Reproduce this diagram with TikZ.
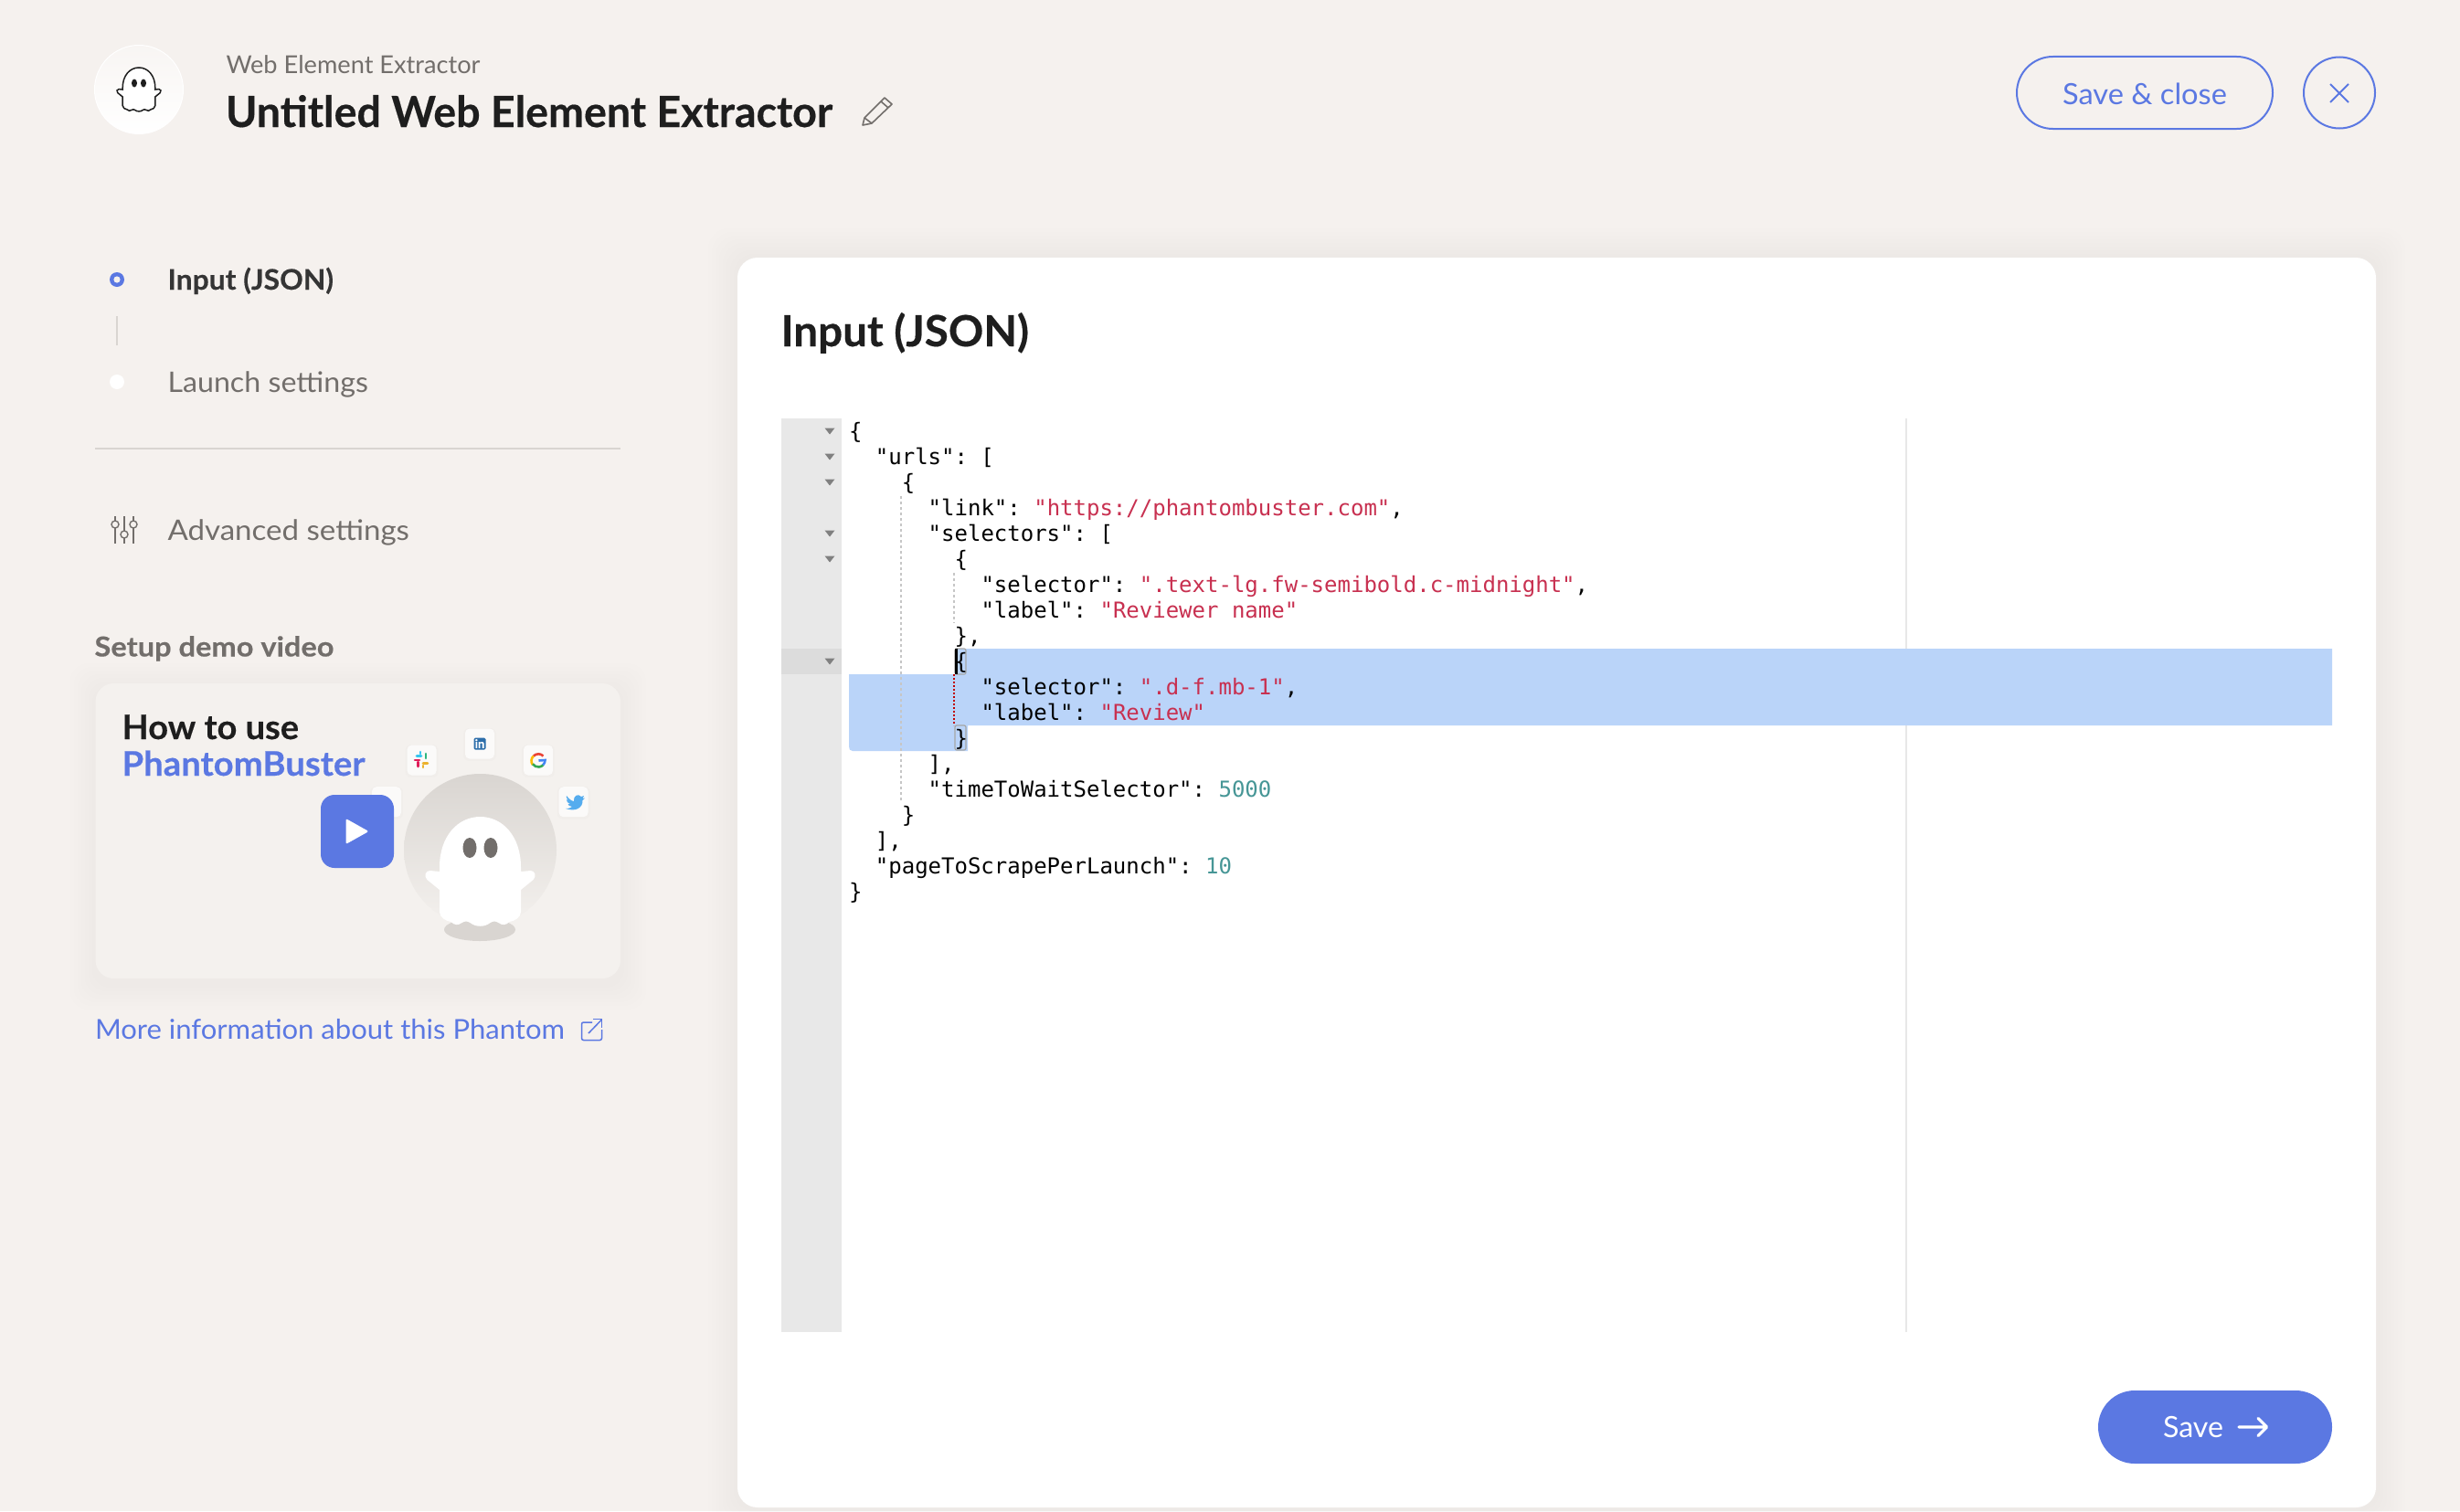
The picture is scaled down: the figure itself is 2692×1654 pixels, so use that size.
\documentclass[tikz,border=0pt]{standalone}
\usepackage{fontspec}
\usepackage{graphicx}
\setmainfont{Lato}[BoldFeatures={FakeBold=0.35}]
\newfontfamily\codefont{DejaVu Sans Mono}
\definecolor{pagebg}{RGB}{245,241,238}
\definecolor{brand}{RGB}{91,120,226}
\definecolor{ink}{RGB}{30,30,30}
\definecolor{mute}{RGB}{114,110,107}
\definecolor{rule}{RGB}{217,213,209}
\definecolor{gut}{RGB}{232,232,232}
\definecolor{gutact}{RGB}{220,220,220}
\definecolor{sel}{RGB}{186,212,249}
\definecolor{strc}{RGB}{200,48,80}
\definecolor{numc}{RGB}{70,150,150}
\definecolor{carda}{RGB}{244,241,238}
\newcommand\wt[2]{\resizebox{#1pt}{\height}{#2}}
\newcommand\fs[1]{\fontsize{#1pt}{#1pt}\selectfont}
\newcommand\ghostpath{(-44.5,55) .. controls (-44.5,22) and (-25,0) .. (0,0) .. controls (25,0) and (44.5,22) .. (44.5,55) -- (44.5,60) -- (55,59) .. controls (60,59) and (62,65) .. (58,69) -- (44.5,80) -- (44.5,104) .. controls (44.5,110) and (38,114) .. (32,115) .. controls (28,119) and (24,119) .. (20,116) .. controls (17,114) and (14,114) .. (11,116) .. controls (5,121) and (-5,121) .. (-11,116) .. controls (-14,114) and (-17,114) .. (-20,116) .. controls (-24,119) and (-28,119) .. (-32,115) .. controls (-38,114) and (-44.5,110) .. (-44.5,104) -- (-44.5,80) -- (-58,69) .. controls (-62,65) and (-60,59) .. (-55,59) -- (-44.5,60) -- cycle}
\tikzset{
  tx/.style={anchor=base west,inner sep=0pt,outer sep=0pt},
  code/.style={tx,font=\codefont\fs{24}\frenchspacing,text=black},
  tile/.style={fill=white,fill opacity=.75,rounded corners=5pt},
  fold/.style={fill=gray},
}
\begin{document}
\begin{tikzpicture}[x=1pt,y=-1pt]
\useasboundingbox (0,0) rectangle (2692,1654);
\fill[pagebg] (0,0) rectangle (2692,1654);

% header
\shade[top color=pagebg!70!white,bottom color=white,draw=white,line width=1pt] (152,98) circle (48.5pt);
\begin{scope}[shift={(152,74)},scale=.4]
  \fill[white,draw=ink,line width=1.5pt] \ghostpath;
\end{scope}
\fill[ink] (147,91) ellipse [x radius=3,y radius=4.5];
\fill[ink] (157,91) ellipse [x radius=3,y radius=4.5];
\node[tx,text=mute,font=\fs{27}] (subtitle) at (247.5,81) {\wt{278}{Web Element Extractor}};
\node[tx,text=ink,font=\bfseries\fs{47}] (title) at (247,139) {\wt{664}{Untitled Web Element Extractor}};
\begin{scope}[draw=mute,line width=1.6pt,line join=round]
  \draw (946,129) -- (968,107) -- (976,114) -- (954,135) -- (944,137) -- cycle;
  \draw (964,111) -- (972,118);
  \draw (946,129) -- (954,135);
\end{scope}
\draw[brand,line width=2pt,rounded corners=39.5pt] (2207,62) rectangle (2487,141);
\node[tx,text=brand,font=\fs{32}] (saveclose) at (2257,114) {\wt{180}{Save \& close}};
\draw[brand,line width=2pt] (2560,101.5) circle (39pt);
\draw[brand,line width=2pt] (2550,92) -- (2570,112) (2570,92) -- (2550,112);

% steps
\fill[brand] (128,306) circle (8pt);
\fill[pagebg] (128,306) circle (3.6pt);
\draw[rule,line width=1.6pt] (128,346) -- (128,378);
\fill[white] (128,418) circle (8pt);
\node[tx,text=ink!90,font=\bfseries\fs{31}] (stepa) at (183.5,317) {\wt{181.5}{Input (JSON)}};
\node[tx,text=mute,font=\fs{31}] (stepb) at (183.5,429) {\wt{219.5}{Launch settings}};
\draw[rule,line width=2pt] (104,491) -- (679,491);
\begin{scope}[draw=mute,line width=1.4pt]
  \draw (126,565) -- (126,570) (126,578) -- (126,595);
  \draw (136,565) -- (136,581) (136,589) -- (136,595);
  \draw (146,565) -- (146,570) (146,578) -- (146,595);
  \draw (126,574) circle (4pt) (136,585) circle (4pt) (146,574) circle (4pt);
\end{scope}
\node[tx,text=mute,font=\fs{31}] (stepc) at (183.5,591) {\wt{264.5}{Advanced settings}};

% video
\node[tx,text=mute,font=\bfseries\fs{30}] (setup) at (103.5,718.5) {\wt{262}{Setup demo video}};
\foreach \o in {28,24,20,16,12,8,4}
  \fill[black,opacity=.003,rounded corners=20pt] (104.5-\o,748-\o+6) rectangle (679+\o,1071+\o+6);
\fill[carda,rounded corners=20pt] (104.5,748) rectangle (679,1071);
\node[tx,text=ink,font=\bfseries\fs{37}] (howto) at (133.5,809) {\wt{193.5}{How to use}};
\node[tx,text=brand,font=\bfseries\fs{37}] (pb) at (133.5,849) {\wt{266}{PhantomBuster}};
\shade[top color=rule,bottom color=carda] (525.5,930.5) circle (83.5pt);
\fill[rule] (525,1017.5) ellipse [x radius=39,y radius=12.5];
\foreach \cx/\cy in {461.6/832,525/814,589/832,627.6/877.7,423/877.7}{
  \fill[black,opacity=.012,rounded corners=6pt] (\cx-18,\cy-17) rectangle (\cx+18,\cy+19);
  \fill[tile] (\cx-16,\cy-16.5) rectangle (\cx+16,\cy+16.5);
}
% slack
\draw[line width=2.6pt,line cap=round,color={rgb,255:red,54;green,197;blue,240}] (456,827.5) -- (461,827.5);
\draw[line width=2.6pt,line cap=round,color={rgb,255:red,46;green,182;blue,125}] (466,825) -- (466,830);
\draw[line width=2.6pt,line cap=round,color={rgb,255:red,236;green,178;blue,46}] (463,835.5) -- (468,835.5);
\draw[line width=2.6pt,line cap=round,color={rgb,255:red,224;green,30;blue,90}] (457.5,834) -- (457.5,839);
\draw[line width=2.6pt,line cap=round,color={rgb,255:red,224;green,30;blue,90}] (459,832) -- (454,832);
\draw[line width=2.6pt,line cap=round,color={rgb,255:red,54;green,197;blue,240}] (460,825) -- (460,823);
\draw[line width=2.6pt,line cap=round,color={rgb,255:red,236;green,178;blue,46}] (463,838) -- (463,840);
% linkedin
\fill[color={rgb,255:red,45;green,110;blue,170},rounded corners=1.5pt] (518.5,807.5) rectangle (531.5,820.5);
\node[anchor=center,inner sep=0pt,text=white,font=\bfseries\fs{13}] (li) at (525,814) {in};
% google
\draw[line width=2.6pt,color={rgb,255:red,234;green,67;blue,53}] (594.5,827.5) arc[start angle=45,end angle=135,radius=7.5pt];
\draw[line width=2.6pt,color={rgb,255:red,251;green,188;blue,5}] (583.7,827.5) arc[start angle=135,end angle=215,radius=7.5pt];
\draw[line width=2.6pt,color={rgb,255:red,52;green,168;blue,83}] (583,836.3) arc[start angle=215,end angle=315,radius=7.5pt];
\draw[line width=2.6pt,color={rgb,255:red,66;green,133;blue,244}] (594.3,837.3) arc[start angle=315,end angle=360,radius=7.5pt] -- (589.5,832.5);
% twitter
\fill[color={rgb,255:red,85;green,172;blue,238}] (620,871) .. controls (623,875) and (626,877) .. (628,877) .. controls (627,871) and (633,868) .. (636,872) -- (639,871) -- (637.5,874) -- (640,873.5) -- (637.5,876) .. controls (638,884) and (630,889) .. (619,885) .. controls (623,885) and (625,884) .. (626,883) .. controls (623,883) and (622,881) .. (621.5,880) -- (624,880) .. controls (621,879) and (619.5,876) .. (620,875) -- (622,876) .. controls (620,874) and (619,872) .. (620,871) -- cycle;
% play
\fill[brand,rounded corners=15pt] (351,870) rectangle (431,950);
\fill[white,rounded corners=2pt] (378.5,896) -- (403.5,910) -- (378.5,924) -- cycle;
% ghost
\begin{scope}[shift={(525.5,894)}]
  \fill[white] \ghostpath;
\end{scope}
\fill[mute] (514,928) ellipse [x radius=7.5,y radius=11];
\fill[mute] (537,928) ellipse [x radius=7.5,y radius=11];
\node[tx,text=brand,font=\fs{30}] (more) at (104,1137) {\wt{514}{More information about this Phantom}};
\begin{scope}[draw=brand,line width=1.5pt]
  \draw[rounded corners=2pt] (648,1119) -- (636.5,1119) -- (636.5,1138.5) -- (658.5,1138.5) -- (658.5,1127);
  \draw (644,1131) -- (658.5,1116);
  \draw (649,1115.5) -- (658.5,1115.5) -- (658.5,1125);
\end{scope}

% main card
\foreach \o in {32,28,24,20,16,12,8,4}
  \fill[black,opacity=.0035,rounded corners=22pt] (807-\o,282-\o) rectangle (2600+\o,1650+\o);
\fill[white,rounded corners=22pt] (807,282) rectangle (2600,1650);
\node[tx,text=ink,font=\bfseries\fs{47}] (heading) at (854.5,379) {\wt{271.5}{Input (JSON)}};

% editor
\fill[gut] (855,458) rectangle (921,1458);
\fill[gutact] (855,710) rectangle (921,738);
\draw[gut,line width=1.6pt] (2086,458) -- (2086,1458);
\fill[sel] (1045,710) -- (2552,710) -- (2552,794) -- (1059,794) -- (1059,818) [rounded corners=0pt] -- (1059,822) -- (933,822) .. controls (930,822) and (929,820) .. (929,817) -- (929,738) -- (1045,738) -- cycle;
\draw[gray!45,line width=1.2pt,dash pattern=on 3pt off 3pt] (986,543) -- (986,878);
\draw[gray!45,line width=1.2pt,dash pattern=on 3pt off 3pt] (1044,627) -- (1044,682);
\draw[red!75!black,line width=1.2pt,dash pattern=on 2pt off 2pt] (1044,738) -- (1044,794);
\draw[gray!70,line width=1.2pt,rounded corners=2pt] (1045,710) rectangle (1057,738);
\draw[gray!70,line width=1.2pt,rounded corners=2pt] (1045,794) rectangle (1057,821);
\foreach \l in {1,2,3,5,6,10}
  \fill[fold] (902.5,468.5+28*\l-28) -- (913.5,468.5+28*\l-28) -- (908,475.5+28*\l-28) -- cycle;

\newcommand\codeline[4]{\node[code] (#1) at ({929+14.45*#3},{480+28*(#2-1)}) {#4};}
\newcommand\st[1]{\textcolor{strc}{#1}}
\newcommand\nm[1]{\textcolor{numc}{#1}}
\codeline{la}{1}{0}{\{}
\codeline{lb}{2}{2}{"urls": [}
\codeline{lc}{3}{4}{\{}
\codeline{ld}{4}{6}{"link": \st{"https://phantombuster.com"},}
\codeline{le}{5}{6}{"selectors": [}
\codeline{lf}{6}{8}{\{}
\codeline{lg}{7}{10}{"selector": \st{".text-lg.fw-semibold.c-midnight"},}
\codeline{lh}{8}{10}{"label": \st{"Reviewer name"}}
\codeline{li2}{9}{8}{\},}
\codeline{lj}{10}{8}{\{}
\codeline{lk}{11}{10}{"selector": \st{".d-f.mb-1"},}
\codeline{ll}{12}{10}{"label": \st{"Review"}}
\codeline{lm}{13}{8}{\}}
\codeline{ln}{14}{6}{],}
\codeline{lo}{15}{6}{"timeToWaitSelector": \nm{5000}}
\codeline{lp}{16}{4}{\}}
\codeline{lq}{17}{2}{],}
\codeline{lr}{18}{2}{"pageToScrapePerLaunch": \nm{10}}
\codeline{ls}{19}{0}{\}}
\fill[black] (1045,710) rectangle (1047.5,738);

% save button
\fill[brand,rounded corners=40pt] (2296,1522) rectangle (2552,1602);
\node[tx,text=white,font=\fs{32}] (save) at (2367,1573) {\wt{66}{Save}};
\draw[white,line width=3.2pt,line cap=round,line join=round] (2450,1562) -- (2480,1562) (2471,1552.5) -- (2480.5,1562) -- (2471,1571.5);
\end{tikzpicture}
\end{document}
